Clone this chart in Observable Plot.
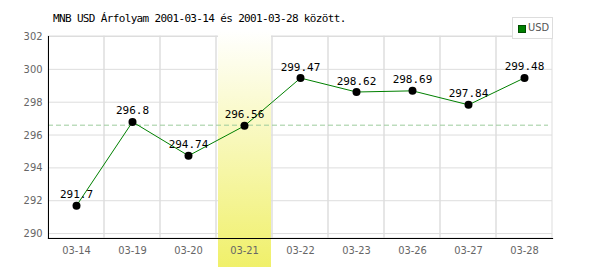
<!DOCTYPE html>
<html><head><meta charset="utf-8">
<script src="https://cdn.jsdelivr.net/npm/d3@7"></script>
<script src="https://cdn.jsdelivr.net/npm/@observablehq/plot@0.6"></script>
<style>
body{margin:0;background:#fff}
#wrap{position:relative;width:600px;height:270px;overflow:hidden}
#title{position:absolute;left:53px;top:12px;font-size:11px;font-family:"DejaVu Sans Mono",monospace;letter-spacing:-0.65px;color:#000;white-space:nowrap;line-height:13px}
#legend{position:absolute;left:512px;top:17px;width:39px;height:20px;border:1px solid #ddd;background:#fff;box-sizing:content-box}
#legend .sw{position:absolute;left:5px;top:7px;width:6px;height:6px;background:#008000;border:1px solid #004d00}
#legend .lb{position:absolute;left:15px;top:3px;font-size:11px;font-family:"DejaVu Sans Condensed","Liberation Sans Narrow","DejaVu Sans",sans-serif;color:#555;line-height:14px}
#chart{position:absolute;left:0;top:0}
</style></head>
<body>
<div id="wrap">
  <div id="chart"></div>
  <div id="title">MNB USD Árfolyam 2001-03-14 és 2001-03-28 között.</div>
  <div id="legend"><div class="sw"></div><div class="lb">USD</div></div>
</div>
<script>
const dates = ["03-14","03-19","03-20","03-21","03-22","03-23","03-26","03-27","03-28"];
const rates = [291.7, 296.8, 294.74, 296.56, 299.47, 298.62, 298.69, 297.84, 299.48];
const rateLabels = ["291.7","296.8","294.74","296.56","299.47","298.62","298.69","297.84","299.48"];
const highlightDate = "03-21";
const referenceRate = 296.6;
const yTicks = [290, 292, 294, 296, 298, 300, 302];
const yDomain = [289.7, 302];

const data = dates.map((d, i) => ({date: d, rate: rates[i], label: rateLabels[i]}));

const tickFont = '"DejaVu Sans Condensed","Liberation Sans Narrow","DejaVu Sans",sans-serif';
const monoFont = '"DejaVu Sans Mono",monospace';

const svg = Plot.plot({
  width: 600,
  height: 270,
  marginLeft: 48,
  marginRight: 48,
  marginTop: 36,
  marginBottom: 32,
  style: {background: "transparent", overflow: "visible"},
  x: {domain: dates, padding: 0, label: null},
  y: {domain: yDomain, label: null},
  marks: [
    Plot.gridY(yTicks, {stroke: "#dddddd", strokeOpacity: 1}),
    Plot.barY(dates, {x: d => d, y1: yDomain[1], y2: yDomain[0], fill: "none", stroke: "#dddddd"}),
    Plot.barY([highlightDate], {x: d => d, y1: yDomain[1], y2: yDomain[0], fill: "url(#hl)", insetLeft: 2, insetRight: 1, insetTop: -6, insetBottom: -29}),
    Plot.ruleY([referenceRate], {stroke: "#9ccc9c", strokeDasharray: "5,3", insetRight: 4}),
    Plot.frame({anchor: "left", stroke: "#000"}),
    Plot.frame({anchor: "bottom", stroke: "#000", strokeWidth: 1.2}),
    Plot.axisY({ticks: yTicks, tickSize: 0, tickPadding: 6, fill: "#666", fontSize: 11, fontFamily: tickFont, label: null}),
    Plot.axisX({tickSize: 0, tickPadding: 8, fill: "#666", fontSize: 11, fontFamily: tickFont, label: null}),
    Plot.line(data, {x: "date", y: "rate", stroke: "#008000", strokeWidth: 1}),
    Plot.dot(data, {x: "date", y: "rate", r: 4, fill: "#000", stroke: "none"}),
    Plot.text(data, {x: "date", y: "rate", text: "label", dy: -11, fill: "#000", fontSize: 11, fontFamily: monoFont, style: "letter-spacing:-1px"})
  ]
});

d3.select(svg).insert("defs", ":first-child").html(
  '<linearGradient id="hl" x1="0" y1="0" x2="0" y2="1">' +
  '<stop offset="0" stop-color="#ffffff"/>' +
  '<stop offset="1" stop-color="#f0f06a"/>' +
  '</linearGradient>'
);
document.getElementById("chart").appendChild(svg);
</script>
</body></html>
